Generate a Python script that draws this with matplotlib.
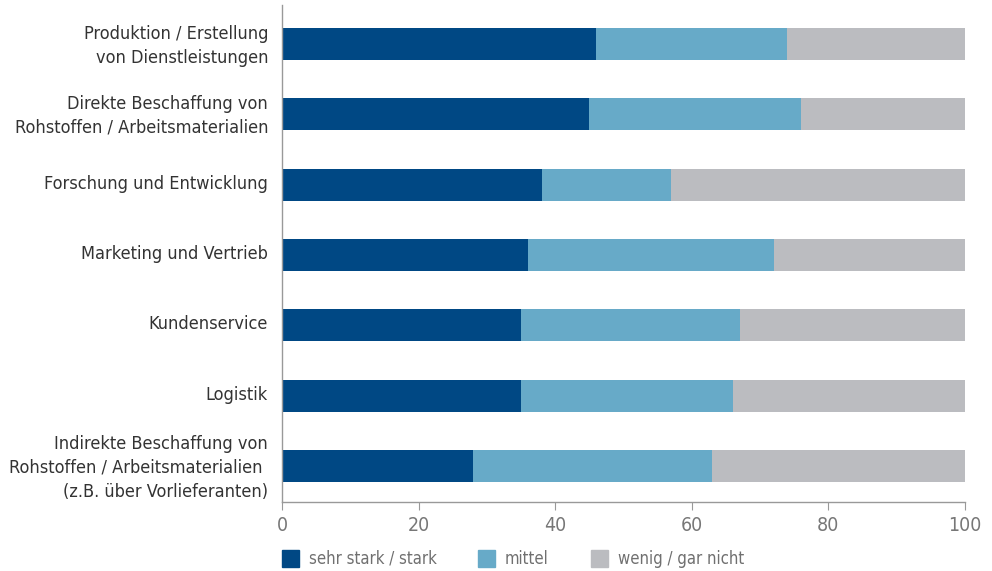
import matplotlib.pyplot as plt
import matplotlib.transforms as mtransforms
from matplotlib.patches import Rectangle
import numpy as np

plt.rcParams['font.family'] = ['DejaVu Sans']
plt.rcParams['font.stretch'] = 'condensed'

categories = [
    "Produktion / Erstellung\nvon Dienstleistungen",
    "Direkte Beschaffung von\nRohstoffen / Arbeitsmaterialien",
    "Forschung und Entwicklung",
    "Marketing und Vertrieb",
    "Kundenservice",
    "Logistik",
    "Indirekte Beschaffung von\nRohstoffen / Arbeitsmaterialien \n(z.B. über Vorlieferanten)",
]
stark = [46, 45, 38, 36, 35, 35, 28]
mittel = [28, 31, 19, 36, 32, 31, 35]
wenig = [26, 24, 43, 28, 33, 34, 37]

series = ["sehr stark / stark", "mittel", "wenig / gar nicht"]
colors = ["#004884", "#67aac8", "#bbbcc0"]

W, H = 992, 571
fig = plt.figure(figsize=(W / 100, H / 100), dpi=100)
ax = fig.add_axes([282 / W, 69 / H, 683 / W, 497 / H])

y = np.arange(len(categories))
left = np.zeros(len(categories))
for vals, c in zip([stark, mittel, wenig], colors):
    ax.barh(y, vals, left=left, height=0.455, color=c, linewidth=0)
    left += np.array(vals)

ax.set_ylim(len(categories) - 1 + 0.51, -0.555)
ax.set_xlim(0, 100)
ax.set_xticks([0, 20, 40, 60, 80, 100])
ax.set_yticks(y, labels=categories)
ax.tick_params(axis='y', length=0, pad=10, labelsize=13, labelcolor="#333333")
ax.tick_params(axis='x', length=6, color="#999999", labelsize=14,
               labelcolor="#777777", pad=4)
lift = mtransforms.ScaledTranslation(0, 0.03, fig.dpi_scale_trans)
for lbl in ax.get_yticklabels():
    lbl.set_horizontalalignment('right')
    lbl.set_multialignment('right')
    lbl.set_linespacing(1.4)
    lbl.set_transform(lbl.get_transform() + lift)

for s in ['top', 'right']:
    ax.spines[s].set_visible(False)
for s in ['left', 'bottom']:
    ax.spines[s].set_color("#999999")
    ax.spines[s].set_linewidth(1.0)

# legend row below the axis: square marker + label
legend_x = [282, 478, 591]
for x0, c, s in zip(legend_x, colors, series):
    fig.patches.append(Rectangle((x0 / W, 4 / H), 17 / W, 17 / H,
                                 transform=fig.transFigure, color=c))
    fig.text((x0 + 27) / W, 12.5 / H, s, fontsize=12, color="#707070",
             va='center', ha='left')

fig.savefig("out.png", dpi=100)
